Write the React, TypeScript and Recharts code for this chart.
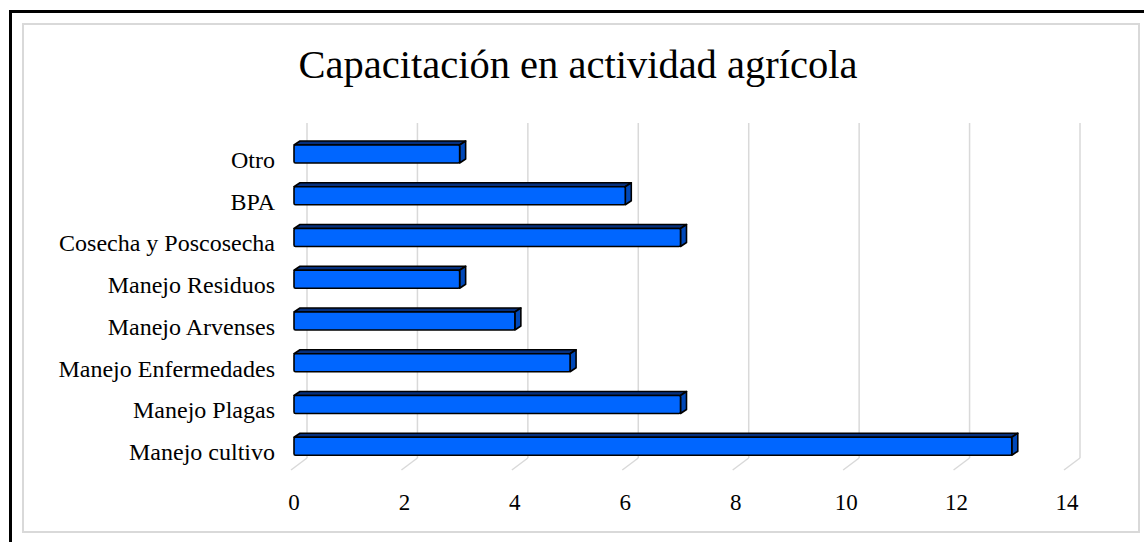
import React from 'react';
import { BarChart, Bar, XAxis, YAxis, CartesianGrid } from 'recharts';

const categories = [
  'Otro',
  'BPA',
  'Cosecha y Poscosecha',
  'Manejo Residuos',
  'Manejo Arvenses',
  'Manejo Enfermedades',
  'Manejo Plagas',
  'Manejo cultivo',
];
const values = [3, 6, 7, 3, 4, 5, 7, 13];
const xTicks = [0, 2, 4, 6, 8, 10, 12, 14];

const data = categories.map((name, i) => ({ name, value: values[i] }));

const FONT = '"Liberation Serif", "Times New Roman", serif';
const DX = 6; // 3D depth, horizontal
const DY = 4; // 3D depth, vertical

// 3D-looking bar: front face, top face, right face
const Bar3D = (props: any) => {
  const { x, y, width, height } = props;
  if (!width || width <= 0) return null;
  const fy = y + DY;
  const fh = height - DY;
  return (
    <g stroke="#000" strokeWidth={1.6} strokeLinejoin="round">
      <polygon
        points={`${x},${fy} ${x + width},${fy} ${x + width + DX},${y} ${x + DX},${y}`}
        fill="#06307e"
      />
      <polygon
        points={`${x + width},${fy} ${x + width + DX},${y} ${x + width + DX},${y + fh} ${x + width},${fy + fh}`}
        fill="#0048b8"
      />
      <rect x={x} y={fy} width={width} height={fh} fill="#0066ff" rx={1.5} />
    </g>
  );
};

// back-wall gridline plus floor diagonal
const gridLine = (props: any) => {
  const { x1, y1, y2, index } = props;
  const bx = x1 + 13;
  return (
    <g key={`g-${index}`} stroke="#d9d9d9" strokeWidth={1.5} fill="none">
      <line x1={bx} y1={y1 - 8} x2={bx} y2={y2 - 7} />
      <line x1={bx} y1={y2 - 7} x2={x1 - 3} y2={y2 + 5} />
    </g>
  );
};

const CategoryTick = (props: any) => {
  const { x, y, payload } = props;
  return (
    <text
      x={x - 19}
      y={y + 16}
      textAnchor="end"
      fontFamily={FONT}
      fontSize={24}
      fill="#000"
    >
      {payload.value}
    </text>
  );
};

const ValueTick = (props: any) => {
  const { x, y, payload } = props;
  return (
    <text x={x} y={y + 45} textAnchor="middle" fontFamily={FONT} fontSize={23} fill="#000">
      {payload.value}
    </text>
  );
};

export default function App() {
  return (
    <div
      style={{
        position: 'absolute',
        left: 0,
        top: 0,
        width: 1144,
        height: 542,
        overflow: 'hidden',
        background: '#fff',
      }}
    >
      {/* outer black frame (top and left only visible) */}
      <div
        style={{
          position: 'absolute',
          left: 9,
          top: 10,
          width: 1200,
          height: 600,
          borderTop: '3px solid #000',
          borderLeft: '3px solid #000',
        }}
      />
      {/* chart area frame */}
      <div
        style={{
          position: 'absolute',
          left: 22,
          top: 23,
          width: 1114,
          height: 506,
          border: '2px solid #d9d9d9',
        }}
      />
      <svg
        width={1144}
        height={542}
        style={{ position: 'absolute', left: 0, top: 0 }}
      >
        <text x={578} y={78} textAnchor="middle" fontFamily={FONT} fontSize={40.5} fill="#000">
          Capacitación en actividad agrícola
        </text>
      </svg>
      <div style={{ position: 'absolute', left: 0, top: 0 }}>
        <BarChart
          width={1144}
          height={542}
          data={data}
          layout="vertical"
          margin={{ top: 131, right: 77, bottom: 37, left: 0 }}
          barCategoryGap={0}
        >
          <CartesianGrid horizontal={false} vertical={gridLine} />
          <XAxis
            type="number"
            domain={[0, 14]}
            ticks={xTicks}
            axisLine={false}
            tickLine={false}
            tickSize={0}
            tickMargin={0}
            height={40}
            tick={<ValueTick />}
          />
          <YAxis
            type="category"
            dataKey="name"
            width={294}
            axisLine={false}
            tickLine={false}
            tickSize={0}
            tickMargin={0}
            interval={0}
            tick={<CategoryTick />}
          />
          <Bar dataKey="value" barSize={22} shape={<Bar3D />} isAnimationActive={false} />
        </BarChart>
      </div>
    </div>
  );
}
